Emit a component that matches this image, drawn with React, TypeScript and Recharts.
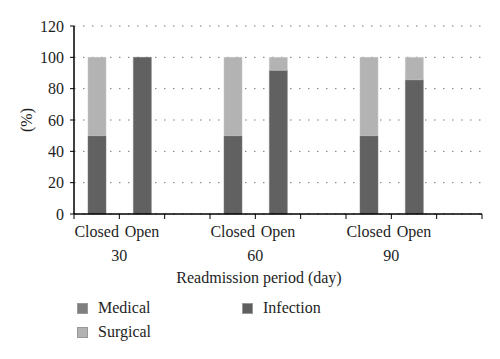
import React from 'react';
import { BarChart, Bar, XAxis, YAxis, CartesianGrid, Legend } from 'recharts';

// one slot per x band; empty slots separate the periods
const categories = ['Closed', 'Open', '', 'Closed', 'Open', '', 'Closed', 'Open', ''];
const periods = ['30', '30', '', '60', '60', '', '90', '90', ''];
const medical = [0, 0, null, 0, 0, null, 0, 0, null];
const infection = [50, 100, null, 50, 91.7, null, 50, 85.7, null];
const surgical = [50, 0, null, 50, 8.3, null, 50, 14.3, null];
const yTicks = [0, 20, 40, 60, 80, 100, 120];

const FONT = '"Liberation Serif", "DejaVu Serif", serif';
const TEXT = '#1e1e1e';
const BAND = 408 / 9;

const chartData = categories.map((c, i) => ({
  id: String(i),
  Medical: medical[i],
  Infection: infection[i],
  Surgical: surgical[i],
}));

const XTick = (props: any) => {
  const { x, y, index } = props;
  const cat = categories[index];
  const isLast = index === categories.length - 1;
  return (
    <g>
      <line x1={x - BAND / 2} x2={x - BAND / 2} y1={y} y2={y + 5} stroke="#000" />
      {isLast && <line x1={x + BAND / 2} x2={x + BAND / 2} y1={y} y2={y + 5} stroke="#000" />}
      {cat && (
        <text x={x} y={y + 23} textAnchor="middle" fontFamily={FONT} fontSize={16} fill={TEXT}>
          {cat}
        </text>
      )}
      {cat === 'Open' && (
        <text x={x - BAND / 2} y={y + 47} textAnchor="middle" fontFamily={FONT} fontSize={16} fill={TEXT}>
          {periods[index]}
        </text>
      )}
    </g>
  );
};

const legendItems = [
  { name: 'Medical', color: '#7f7f7f', left: 77, top: 0 },
  { name: 'Infection', color: '#5e5e5e', left: 242, top: 0 },
  { name: 'Surgical', color: '#b2b2b2', left: 77, top: 24 },
];

const LegendContent = () => (
  <div style={{ position: 'relative', width: 500, height: 50, fontFamily: FONT, fontSize: 16, color: TEXT }}>
    {legendItems.map((it) => (
      <div key={it.name} style={{ position: 'absolute', left: it.left, top: it.top, display: 'flex', alignItems: 'center' }}>
        <span style={{ display: 'inline-block', width: 11, height: 11, background: it.color, border: '1px solid #999', boxSizing: 'border-box', marginRight: 10 }} />
        <span>{it.name}</span>
      </div>
    ))}
  </div>
);

export default function App() {
  return (
    <div style={{ position: 'absolute', left: 0, top: 0, background: '#fff' }}>
      <BarChart width={500} height={359} data={chartData} margin={{ top: 26, right: 18, left: 0, bottom: 15 }} barSize={18}>
        <CartesianGrid vertical={false} stroke="#777" strokeDasharray="1.5 7.5" />
        <XAxis
          dataKey="id"
          height={80}
          axisLine={{ stroke: '#000', strokeWidth: 1.5 }}
          tickLine={false}
          tickSize={0}
          tickMargin={0}
          interval={0}
          tick={<XTick />}
          label={{ value: 'Readmission period (day)', position: 'insideTop', offset: 58, dx: -19, style: { fontFamily: FONT, fontSize: 16, fill: TEXT } }}
        />
        <YAxis
          width={74}
          domain={[0, 120]}
          ticks={yTicks}
          interval={0}
          axisLine={{ stroke: '#000', strokeWidth: 1.5 }}
          tickLine={{ stroke: '#000' }}
          tickSize={4}
          tickMargin={6}
          tick={{ fontFamily: FONT, fontSize: 16, fill: TEXT }}
          label={{ value: '(%)', angle: -90, position: 'insideLeft', offset: 26, style: { fontFamily: FONT, fontSize: 16, fill: TEXT, textAnchor: 'middle' } }}
        />
        <Legend verticalAlign="bottom" content={<LegendContent />} wrapperStyle={{ top: 299, left: 0, width: 500 }} />
        <Bar dataKey="Medical" stackId="a" fill="#7f7f7f" isAnimationActive={false} />
        <Bar dataKey="Infection" stackId="a" fill="#616161" stroke="#777" strokeWidth={0.5} isAnimationActive={false} />
        <Bar dataKey="Surgical" stackId="a" fill="#b3b3b3" stroke="#c4c4c4" strokeWidth={0.5} isAnimationActive={false} />
      </BarChart>
    </div>
  );
}
